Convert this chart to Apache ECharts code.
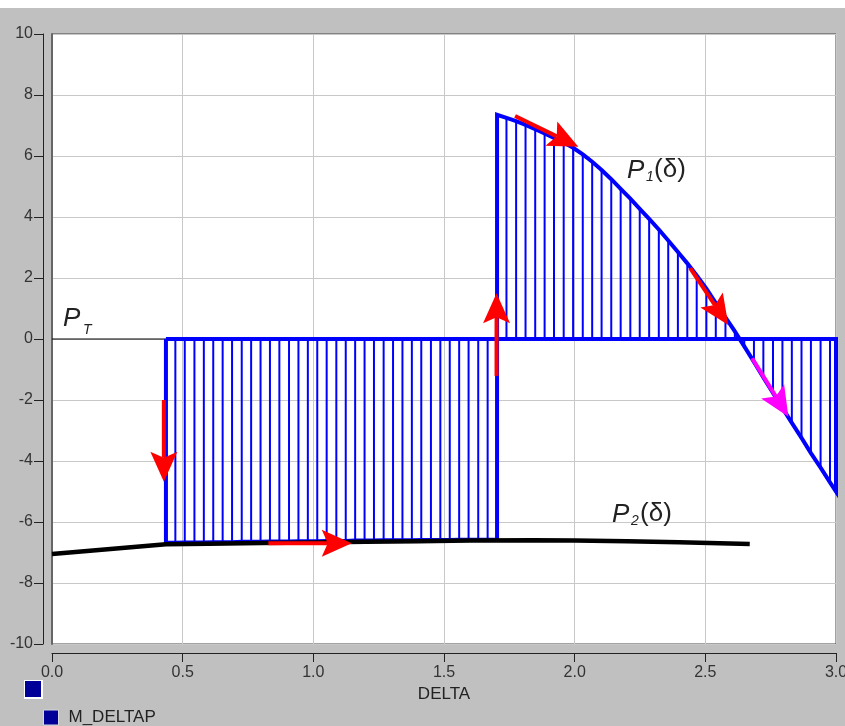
<!DOCTYPE html>
<html>
<head>
<meta charset="utf-8">
<script src="https://cdn.jsdelivr.net/npm/echarts@6/dist/echarts.min.js"></script>
<style>
html,body{margin:0;padding:0;background:#fff;}
#chart{width:845px;height:726px;}
</style>
</head>
<body>
<div id="chart"></div>
<script>
// ---- data ----
// fault-on part of M_DELTAP (P_T - P2), angle in rad
const deltaLow = [0.436,0.472,0.508,0.545,0.581,0.617,0.653,0.689,0.726,0.762,0.798,0.834,0.870,0.907,0.943,0.979,1.015,1.051,1.088,1.124,1.160,1.196,1.232,1.269,1.305,1.341,1.377,1.413,1.450,1.486,1.522,1.558,1.594,1.631,1.667,1.703];
const valueLow = [-6.68,-6.68,-6.67,-6.67,-6.67,-6.66,-6.66,-6.66,-6.65,-6.65,-6.65,-6.64,-6.64,-6.64,-6.63,-6.63,-6.63,-6.62,-6.62,-6.62,-6.61,-6.61,-6.61,-6.60,-6.60,-6.60,-6.60,-6.59,-6.59,-6.59,-6.59,-6.58,-6.58,-6.58,-6.58,-6.58];
// post-fault part of M_DELTAP (P_T - P1)
const deltaHigh = [1.703,1.739,1.776,1.812,1.849,1.885,1.921,1.958,1.994,2.031,2.067,2.103,2.140,2.176,2.213,2.249,2.285,2.322,2.358,2.395,2.431,2.467,2.504,2.540,2.577,2.613,2.649,2.686,2.722,2.759,2.795,2.831,2.868,2.904,2.941,2.977,3.000];
const valueHigh = [7.35,7.25,7.14,7.02,6.88,6.74,6.59,6.44,6.27,6.05,5.81,5.54,5.24,4.92,4.60,4.27,3.94,3.59,3.23,2.85,2.48,2.08,1.65,1.18,0.71,0.25,-0.24,-0.75,-1.26,-1.77,-2.26,-2.75,-3.24,-3.74,-4.22,-4.70,-5.00];
// P2(delta) curve
const p2Delta = [0.0,0.436,0.6,0.8,1.0,1.2,1.4,1.6,1.84,2.0,2.2,2.4,2.67];
const p2Value = [-7.05,-6.73,-6.71,-6.69,-6.67,-6.65,-6.63,-6.61,-6.60,-6.61,-6.63,-6.66,-6.72];
// P_T reference line
const ptDelta = [0.0,3.0];
const ptValue = [0,0];
// arrows: start delta, start value, end delta, end value
const arrowX1 = [0.428,0.828,1.701,1.772,2.442,2.679];
const arrowY1 = [-2.00,-6.70,-1.21,7.31,2.32,-0.63];
const arrowX2 = [0.428,1.147,1.701,2.014,2.588,2.818];
const arrowY2 = [-4.68,-6.70,1.50,6.30,0.46,-2.55];
const arrowColor = ['#ff0000','#ff0000','#ff0000','#ff0000','#ff0000','#ff00ff'];
// ticks
const xTicks = {min:0, max:3, interval:0.5};
const yTicks = {min:-10, max:10, interval:2};

// ---- build ----
const pa = [];
deltaLow.forEach((d,i)=>pa.push([d,valueLow[i]]));
deltaHigh.forEach((d,i)=>pa.push([d,valueHigh[i]]));
const outline = [[deltaLow[0],0]].concat(pa).concat([[deltaHigh[deltaHigh.length-1],0],[deltaLow[0],0]]);
const p2 = p2Delta.map((d,i)=>[d,p2Value[i]]);
const pt = ptDelta.map((d,i)=>[d,ptValue[i]]);
const arrows = arrowX1.map((x,i)=>[x,arrowY1[i],arrowX2[i],arrowY2[i]]);

const chart = echarts.init(document.getElementById('chart'), null, {renderer:'canvas'});
const FONT = '"Liberation Sans", Arial, sans-serif';
const option = {
  animation:false,
  backgroundColor:'#c0c0c0',
  grid:{left:52, right:9, top:34, bottom:82, show:true, backgroundColor:'#ffffff', borderColor:'#444', borderWidth:1, containLabel:false, outerBoundsMode:'none'},
  xAxis:{type:'value', min:xTicks.min, max:xTicks.max, interval:xTicks.interval, offset:9,
    name:'DELTA', nameLocation:'middle', nameGap:30,
    nameTextStyle:{fontSize:17, color:'#222', fontFamily:FONT},
    axisLine:{show:true, onZero:false, lineStyle:{color:'#222', width:1}},
    axisTick:{show:true, length:9, lineStyle:{color:'#222'}},
    axisLabel:{margin:12, fontSize:16, color:'#333', fontFamily:FONT, formatter:v=>v.toFixed(1), showMinLabel:true, showMaxLabel:true, hideOverlap:false},
    splitLine:{show:true, lineStyle:{color:'#c8c8c8', width:1}}},
  yAxis:[{type:'value', min:yTicks.min, max:yTicks.max, interval:yTicks.interval, offset:9,
    axisLine:{show:true, onZero:false, lineStyle:{color:'#222', width:1}},
    axisTick:{show:true, length:9, lineStyle:{color:'#222'}},
    axisLabel:{margin:10, fontSize:16, color:'#333', fontFamily:FONT, showMinLabel:true, showMaxLabel:true, hideOverlap:false},
    splitLine:{show:true, lineStyle:{color:'#c8c8c8', width:1}}},
    {type:'value', min:yTicks.min, max:yTicks.max, interval:yTicks.interval, position:'left', offset:0,
    axisLine:{show:true, onZero:false, lineStyle:{color:'#666', width:2}},
    axisTick:{show:false}, axisLabel:{show:false}, splitLine:{show:false}}],
  legend:{left:43, top:709, padding:0, itemWidth:15, itemHeight:15, icon:'rect',
    textStyle:{fontSize:17, color:'#222', fontFamily:FONT, padding:[0,0,0,5]},
    data:[{name:'M_DELTAP', itemStyle:{color:'#000099', borderColor:'#d8d8d8', borderWidth:1}}]},
  graphic:[
    {type:'rect', left:0, top:0, shape:{width:845, height:8}, style:{fill:'#ffffff'}, z:100},
    {type:'rect', left:24, top:680, shape:{width:19, height:19}, style:{fill:'#ffffff'}},
    {type:'rect', left:25, top:681, shape:{width:16, height:16}, style:{fill:'#000099'}},
    {type:'text', left:63, top:306, style:{text:'P', font:'italic 26px '+FONT, fill:'#222'}, z:100},
    {type:'text', left:83, top:323, style:{text:'T', font:'italic 14px '+FONT, fill:'#222'}, z:100},
    {type:'text', left:627, top:158, style:{text:'P', font:'italic 26px '+FONT, fill:'#222'}, z:100},
    {type:'text', left:646, top:170, style:{text:'1', font:'italic 14px '+FONT, fill:'#222'}, z:100},
    {type:'text', left:654, top:157, style:{text:'(δ)', font:'26px '+FONT, fill:'#222'}, z:100},
    {type:'text', left:612, top:502, style:{text:'P', font:'italic 26px '+FONT, fill:'#222'}, z:100},
    {type:'text', left:631, top:514, style:{text:'2', font:'italic 14px '+FONT, fill:'#222'}, z:100},
    {type:'text', left:640, top:501, style:{text:'(δ)', font:'26px '+FONT, fill:'#222'}, z:100}
  ],
  series:[
    {name:'PT', type:'line', data:pt, showSymbol:false, lineStyle:{color:'#000', width:1}, z:2, silent:true},
    {name:'M_DELTAP', type:'custom', data:pa, z:3, silent:true,
      encode:{x:0, y:1},
      renderItem:(params, api)=>{
        const a = api.coord([api.value(0), 0]);
        const b = api.coord([api.value(0), api.value(1)]);
        return {type:'line', shape:{x1:a[0], y1:a[1], x2:b[0], y2:b[1]}, style:{stroke:'#0000ff', lineWidth:2}};
      }},
    {name:'M_DELTAP', type:'line', data:outline, showSymbol:false, smooth:false, z:4, silent:true,
      itemStyle:{color:'#0000ff'}, lineStyle:{color:'#0000ff', width:4, join:'miter'}},
    {name:'P2', type:'line', data:p2, showSymbol:false, z:5, silent:true, lineStyle:{color:'#000', width:4.5}},
    {name:'arrows', type:'custom', data:arrows, z:6, silent:true,
      encode:{x:[0,2], y:[1,3]},
      renderItem:(params, api)=>{
        const p1 = api.coord([api.value(0), api.value(1)]);
        const p2p = api.coord([api.value(2), api.value(3)]);
        const dx = p2p[0]-p1[0], dy = p2p[1]-p1[1];
        const len = Math.hypot(dx,dy);
        const ux = dx/len, uy = dy/len, nx = -uy, ny = ux;
        const L = 30, W = 13.5, N = 6;
        const bx = p2p[0]-ux*L, by = p2p[1]-uy*L;
        const mx = p2p[0]-ux*(L-N), my = p2p[1]-uy*(L-N);
        const c = arrowColor[params.dataIndex];
        return {type:'group', children:[
          {type:'line', shape:{x1:p1[0], y1:p1[1], x2:mx, y2:my}, style:{stroke:c, lineWidth:4}},
          {type:'polygon', shape:{points:[[p2p[0],p2p[1]],[bx+nx*W, by+ny*W],[mx,my],[bx-nx*W, by-ny*W]]}, style:{fill:c}}
        ]};
      }}
  ]
};
chart.setOption(option);
</script>
</body>
</html>
